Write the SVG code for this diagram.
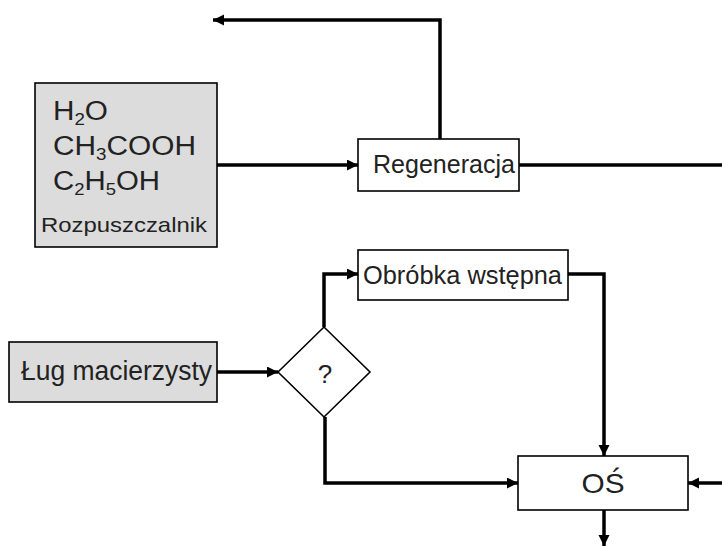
<svg xmlns="http://www.w3.org/2000/svg" width="722" height="547" viewBox="0 0 722 547">
  <style>
    .box { stroke: #000; stroke-width: 1.6; }
    .gray { fill: #dcdcdc; }
    .white { fill: #fff; }
    .lbl { font-family: "Liberation Sans", Arial, sans-serif; fill: #222; }
    .wire { fill: none; stroke: #000; stroke-width: 3.5; }
  </style>
  <defs>
    <marker id="arrow" markerUnits="userSpaceOnUse" markerWidth="13" markerHeight="13" refX="11" refY="5.5" orient="auto">
      <path d="M0,0 L11,5.5 L0,11 z" fill="#000"/>
    </marker>
  </defs>
  <rect width="722" height="547" fill="#fff"/>

  <g id="connectors">
    <path class="wire" d="M440,139 V20 H213" marker-end="url(#arrow)"/>
    <path class="wire" d="M217,165 H358" marker-end="url(#arrow)"/>
    <path class="wire" d="M519,165 H722"/>
    <path class="wire" d="M217,372 H278" marker-end="url(#arrow)"/>
    <path class="wire" d="M324,327 V274 H358" marker-end="url(#arrow)" stroke-width="4.5"/>
    <path class="wire" d="M568,274 H604 V456" marker-end="url(#arrow)"/>
    <path class="wire" d="M325,417 V483 H518" marker-end="url(#arrow)"/>
    <path class="wire" d="M722,483 H688" marker-end="url(#arrow)"/>
    <path class="wire" d="M604,510 V546" marker-end="url(#arrow)"/>
  </g>

  <g id="rozpuszczalnik">
    <rect class="box gray" x="35" y="83" width="182" height="164"/>
    <text class="lbl" x="53" y="120" font-size="27" textLength="55" lengthAdjust="spacingAndGlyphs">H<tspan font-size="17" dy="5">2</tspan><tspan dy="-5">O</tspan></text>
    <text class="lbl" x="53" y="155" font-size="27" textLength="143" lengthAdjust="spacingAndGlyphs">CH<tspan font-size="17" dy="5">3</tspan><tspan dy="-5">COOH</tspan></text>
    <text class="lbl" x="53" y="190" font-size="27" textLength="107" lengthAdjust="spacingAndGlyphs">C<tspan font-size="17" dy="5">2</tspan><tspan dy="-5">H</tspan><tspan font-size="17" dy="5">5</tspan><tspan dy="-5">OH</tspan></text>
    <text class="lbl" x="41" y="232" font-size="21" textLength="166" lengthAdjust="spacingAndGlyphs">Rozpuszczalnik</text>
  </g>

  <g id="regeneracja">
    <rect class="box white" x="358" y="139" width="161" height="52"/>
    <text class="lbl" x="373" y="173" font-size="25" textLength="142" lengthAdjust="spacingAndGlyphs">Regeneracja</text>
  </g>

  <g id="obrobka">
    <rect class="box white" x="358" y="250" width="210" height="50"/>
    <text class="lbl" x="363" y="284" font-size="26" textLength="199" lengthAdjust="spacingAndGlyphs">Obróbka wstępna</text>
  </g>

  <g id="lug">
    <rect class="box gray" x="9" y="342" width="208" height="60"/>
    <text class="lbl" x="21" y="380" font-size="27" textLength="191" lengthAdjust="spacingAndGlyphs">Ług macierzysty</text>
  </g>

  <g id="decyzja">
    <path class="box white" d="M278,372 L324,327 L370,372 L324,417 Z"/>
    <text class="lbl" x="325" y="383" font-size="26" text-anchor="middle">?</text>
  </g>

  <g id="os">
    <rect class="box white" x="518" y="456" width="170" height="54"/>
    <text class="lbl" x="603" y="493" font-size="28" text-anchor="middle" textLength="43" lengthAdjust="spacingAndGlyphs">OŚ</text>
  </g>
</svg>
